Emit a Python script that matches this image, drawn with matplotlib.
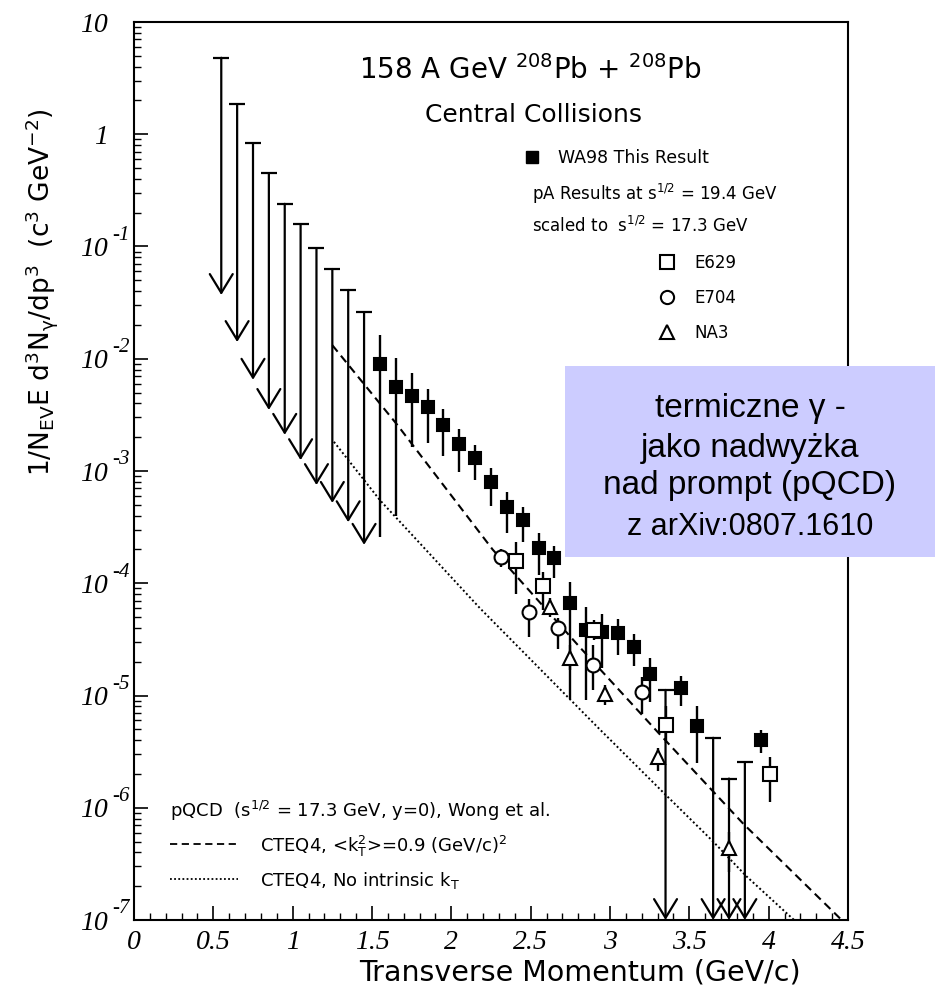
import numpy as np
import matplotlib
matplotlib.use('Agg')
from matplotlib import pyplot as plt
from matplotlib import transforms
from matplotlib.patches import Rectangle
from matplotlib.ticker import MultipleLocator, LogLocator, NullFormatter

# WA98 upper limits at low pT (cap value, arrow tip value)
ul_low_pt = [0.55, 0.65, 0.75, 0.85, 0.95, 1.05, 1.15, 1.25, 1.35, 1.45]
ul_low_top = [4.8, 1.85, 0.83, 0.45, 0.24, 0.158, 0.096, 0.063, 0.041, 0.026]
ul_low_tip = [3.7e-2, 1.41e-2, 6.5e-3, 3.5e-3, 2.1e-3, 1.25e-3, 7.5e-4, 5.2e-4, 3.5e-4, 2.2e-4]

# WA98 upper limits at high pT (arrows go down to the bottom of the plot)
ul_high_pt = [3.35, 3.65, 3.75, 3.85]
ul_high_top = [1.12e-5, 4.2e-6, 1.82e-6, 2.54e-6]

# WA98 measured points
wa98_pt = [1.55, 1.65, 1.75, 1.85, 1.95, 2.05, 2.15, 2.25, 2.35, 2.45, 2.55, 2.65,
           2.75, 2.85, 2.95, 3.05, 3.15, 3.25, 3.45, 3.55, 3.95]
wa98_y = [8.9e-3, 5.6e-3, 4.65e-3, 3.7e-3, 2.57e-3, 1.75e-3, 1.31e-3, 8.0e-4, 4.8e-4, 3.65e-4, 2.05e-4, 1.67e-4,
          6.7e-5, 3.8e-5, 3.7e-5, 3.6e-5, 2.72e-5, 1.56e-5, 1.16e-5, 5.3e-6, 4.0e-6]
wa98_hi = [1.63e-2, 1.02e-2, 7.4e-3, 5.4e-3, 3.6e-3, 2.39e-3, 1.71e-3, 1.07e-3, 6.5e-4, 4.8e-4, 2.8e-4, 2.15e-4,
           1.03e-4, 6.2e-5, 5.3e-5, 4.8e-5, 3.5e-5, 2.14e-5, 1.49e-5, 8.1e-6, 4.9e-6]
wa98_lo = [2.6e-4, 4.0e-4, 1.62e-3, 1.77e-3, 1.36e-3, 9.8e-4, 8.3e-4, 4.9e-4, 2.8e-4, 2.35e-4, 1.18e-4, 1.11e-4,
           9.4e-6, 9.1e-6, 1.75e-5, 2.3e-5, 1.83e-5, 8.8e-6, 8.1e-6, 2.5e-6, 3.1e-6]

# E629 (open squares)
e629_pt = [2.41, 2.58, 2.90, 3.35, 4.01]
e629_y = [1.58e-4, 9.5e-5, 3.84e-5, 5.5e-6, 1.99e-6]
e629_hi = [2.34e-4, 1.27e-4, 4.7e-5, 8.0e-6, 2.81e-6]
e629_lo = [8.1e-5, 5.8e-5, 3.1e-5, 3.8e-6, 1.13e-6]

# E704 (open circles)
e704_pt = [2.31, 2.49, 2.67, 2.89, 3.20]
e704_y = [1.70e-4, 5.6e-5, 4.0e-5, 1.87e-5, 1.07e-5]
e704_hi = [2.0e-4, 7.3e-5, 4.9e-5, 2.8e-5, 1.47e-5]
e704_lo = [1.4e-4, 3.3e-5, 2.6e-5, 1.12e-5, 6.9e-6]

# NA3 (open triangles)
na3_pt = [2.62, 2.75, 2.97, 3.30, 3.75]
na3_y = [6.1e-5, 2.14e-5, 1.03e-5, 2.81e-6, 4.4e-7]
na3_hi = [7.4e-5, 2.8e-5, 1.24e-5, 3.4e-6, 6.1e-7]
na3_lo = [5.0e-5, 1.7e-5, 8.2e-6, 2.14e-6, 2.7e-7]

# pQCD curves
kt_pt = [1.25, 1.66, 2.26, 2.81, 3.31, 3.84, 4.46]
kt_y = [1.32e-2, 2.57e-3, 2.0e-4, 2.69e-5, 4.57e-6, 7.2e-7, 1.0e-7]
nokt_pt = [1.26, 1.55, 2.18, 2.92, 3.34, 3.65, 3.86, 4.16]
nokt_y = [1.82e-3, 5.5e-4, 6.0e-5, 5.25e-6, 1.35e-6, 5.0e-7, 2.45e-7, 1.0e-7]

x_ticks = [0, 0.5, 1, 1.5, 2, 2.5, 3, 3.5, 4, 4.5]
x_tick_labels = ['0', '0.5', '1', '1.5', '2', '2.5', '3', '3.5', '4', '4.5']
y_ticks = [1e1, 1e0, 1e-1, 1e-2, 1e-3, 1e-4, 1e-5, 1e-6, 1e-7]
y_tick_labels = ['10', '1', '10', '10', '10', '10', '10', '10', '10']
y_tick_exps = ['', '', '-1', '-2', '-3', '-4', '-5', '-6', '-7']

plt.rcParams['mathtext.fontset'] = 'dejavusans'
plt.rcParams['mathtext.default'] = 'regular'

W, H = 935, 996


def fx(px):
	return px / W


def fy(py):
	return 1 - py / H


fig = plt.figure(figsize=(W / 100, H / 100), dpi=100)
ax = fig.add_axes([fx(134), fy(920), (848 - 134) / W, (920 - 22) / H])
ax.set_yscale('log')
ax.set_xlim(0, 4.5)
ax.set_ylim(1e-7, 10)

for s in ax.spines.values():
	s.set_linewidth(1.5)

# pQCD curves
ax.plot(kt_pt, kt_y, color='k', lw=1.5, ls=(0, (4, 2.5)), zorder=2)
ax.plot(nokt_pt, nokt_y, color='k', lw=1.4, ls=(0, (1, 1.3)), zorder=2)


def upper_limit(x, top, tip):
	ax.annotate('', xy=(x, tip), xytext=(x, top), annotation_clip=False,
				arrowprops=dict(arrowstyle='->,head_length=0.9,head_width=0.55', lw=1.6,
								color='k', shrinkA=0, shrinkB=0, mutation_scale=15))


y_bottom = ax.get_ylim()[0]
for x, top, tip in zip(ul_low_pt, ul_low_top, ul_low_tip):
	upper_limit(x, top, tip)
for x, top in zip(ul_high_pt, ul_high_top):
	upper_limit(x, top, y_bottom)
ax.plot(ul_low_pt + ul_high_pt, ul_low_top + ul_high_top, ls='none', marker='_',
		ms=11, mew=1.6, color='k', zorder=3)


def points(pt, y, hi, lo, marker, ms, filled):
	y = np.array(y)
	yerr = [y - np.array(lo), np.array(hi) - y]
	ax.errorbar(pt, y, yerr=yerr, fmt=marker, ms=ms, mew=1.5, mec='k',
				mfc='k' if filled else 'white', ecolor='k', elinewidth=1.7,
				capsize=0, zorder=4)


points(wa98_pt, wa98_y, wa98_hi, wa98_lo, 's', 8, True)
points(e629_pt, e629_y, e629_hi, e629_lo, 's', 9.5, False)
points(e704_pt, e704_y, e704_hi, e704_lo, 'o', 10, False)
points(na3_pt, na3_y, na3_hi, na3_lo, '^', 9.5, False)

# axes ticks
ax.set_xticks(x_ticks)
ax.set_xticklabels(x_tick_labels)
ax.xaxis.set_minor_locator(MultipleLocator(0.1))
ax.set_yticks(y_ticks)
ax.set_yticklabels(y_tick_labels)
ax.yaxis.set_minor_locator(LogLocator(base=10, subs=range(2, 10), numticks=20))
ax.yaxis.set_minor_formatter(NullFormatter())
ax.tick_params(which='both', direction='in', top=False, right=False)
ax.tick_params(which='major', length=10, width=1.2)
ax.tick_params(which='minor', length=5, width=1.0)
ax.tick_params(axis='x', which='major', pad=7)
ax.tick_params(axis='y', which='major', pad=19)
tick_font = dict(family='Liberation Serif', style='italic', size=20)
plt.setp(ax.get_xticklabels(), **tick_font)
plt.setp(ax.get_yticklabels(), **tick_font)

# exponents of the y tick labels
exp_trans = transforms.offset_copy(ax.get_yaxis_transform(), fig=fig, x=0, y=8, units='points')
for yv, e in zip(y_ticks, y_tick_exps):
	if e:
		ax.text((112 - 134) / 714, yv, e, transform=exp_trans, ha='left', va='center',
				family='Liberation Serif', style='italic', size=15, clip_on=False)

# axis titles
ax.set_xlabel('Transverse Momentum (GeV/c)', fontsize=20.5, ha='right', va='center')
ax.xaxis.set_label_coords((801 - 134) / 714, -(972 - 920) / 898)
ax.set_ylabel(r'1/N$_{EV}$E d$^{3}$N$_{\gamma}$/dp$^{3}$  (c$^{3}$ GeV$^{-2}$)',
			  fontsize=19, ha='center', va='center')
ax.yaxis.set_label_coords((42 - 134) / 714, (920 - 292) / 898)

# header and legend
fig.text(fx(359), fy(79), r'158 A GeV $^{208}$Pb + $^{208}$Pb', fontsize=20)
fig.text(fx(425), fy(122), 'Central Collisions', fontsize=18)
ax.plot([fx(532)], [fy(157)], 's', ms=8, color='k', transform=fig.transFigure, clip_on=False)
fig.text(fx(558), fy(163), 'WA98 This Result', fontsize=12.5)
fig.text(fx(532), fy(200), r'pA Results at s$^{1/2}$ = 19.4 GeV', fontsize=12)
fig.text(fx(532), fy(232), r'scaled to  s$^{1/2}$ = 17.3 GeV', fontsize=12)
legend_marks = [('s', 'E629', 262), ('o', 'E704', 297), ('^', 'NA3', 332)]
for mk, name, py in legend_marks:
	ax.plot([fx(667)], [fy(py)], mk, ms=9.5, mew=1.5, mec='k', mfc='white',
			transform=fig.transFigure, clip_on=False)
	fig.text(fx(694), fy(py + 6), name, fontsize=12)

fig.text(fx(170), fy(817), r'pQCD  (s$^{1/2}$ = 17.3 GeV, y=0), Wong et al.', fontsize=13)
ax.plot([fx(170), fx(238)], [fy(844), fy(844)], color='k', lw=1.3, ls=(0, (4, 2.5)),
		transform=fig.transFigure, clip_on=False)
fig.text(fx(260), fy(852), r'CTEQ4, <k$_{T}^{2}$>=0.9 (GeV/c)$^{2}$', fontsize=13)
ax.plot([fx(170), fx(238)], [fy(879), fy(879)], color='k', lw=1.3, ls=(0, (1, 1.3)),
		transform=fig.transFigure, clip_on=False)
fig.text(fx(260), fy(886), r'CTEQ4, No intrinsic k$_{T}$', fontsize=13)

# annotation box
fig.add_artist(Rectangle((fx(565), fy(557)), (935 - 565) / W, (557 - 366) / H,
						 transform=fig.transFigure, facecolor='#ccccff', edgecolor='none', zorder=5))
box_lines = [('termiczne \u03b3 -', 417, 24), ('jako nadwyżka', 457, 24),
			 ('nad prompt (pQCD)', 494, 24), ('z arXiv:0807.1610', 535, 22)]
for txt, py, size in box_lines:
	fig.text(fx(750), fy(py), txt, fontsize=size, family='Liberation Sans',
			 ha='center', va='baseline', zorder=6)

fig.savefig('out.png', dpi=100)
